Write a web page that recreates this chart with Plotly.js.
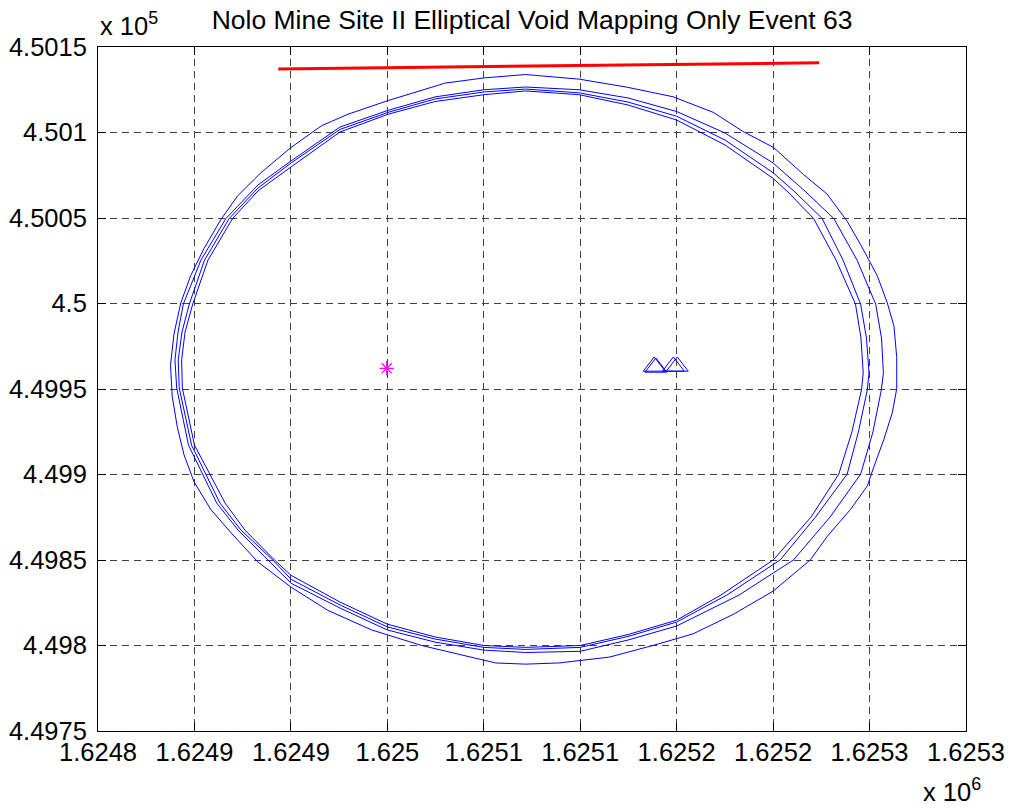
<!DOCTYPE html>
<html><head><meta charset="utf-8">
<script src="https://cdn.plot.ly/plotly-3.0.1.min.js"></script>
<style>html,body{margin:0;padding:0;background:#fff}#chart{width:1011px;height:808px}</style>
</head><body><div id="chart"></div><script>
// Outer void ellipse
const outerX = [1625080.0,1625111.3,1625138.8,1625166.2,1625189.7,1625207.3,1625224.9,1625242.5,1625256.3,1625268.0,1625275.9,1625285.6,1625291.5,1625295.4,1625297.0,1625297.0,1625294.5,1625289.5,1625283.7,1625279.8,1625270.0,1625256.3,1625246.5,1625224.9,1625201.4,1625177.9,1625154.4,1625128.9,1625099.6,1625080.0,1625062.4,1625042.8,1625019.3,1624990.0,1624964.5,1624942.9,1624923.4,1624907.7,1624895.9,1624886.2,1624880.3,1624876.4,1624873.4,1624872.4,1624874.4,1624878.4,1624884.2,1624892.0,1624901.9,1624911.6,1624925.3,1624942.9,1624960.6,1624976.2,1624999.7,1625033.0,1625055.6,1625080.0];
const outerY = [450133.9,450131.2,450126.6,450120.9,450111.8,450100.5,450091.3,450075.4,450064.0,450048.1,450034.4,450016.3,450000.3,449986.7,449968.4,449950.2,449936.5,449920.6,449904.7,449893.3,449879.6,449863.7,449850.1,449831.9,449818.2,449806.8,449800.0,449793.2,449789.8,449789.1,449789.8,449794.3,449800.0,449809.1,449820.5,449834.1,449848.9,449866.0,449879.6,449895.6,449911.5,449927.5,449945.7,449963.9,449982.1,450000.3,450016.3,450032.2,450049.2,450062.9,450076.5,450091.3,450103.9,450110.7,450118.7,450128.9,450131.9,450133.9];
// Inner ellipse B
const ringBX = [1625080.0,1625111.3,1625139.9,1625168.3,1625196.6,1625224.7,1625243.9,1625260.2,1625273.8,1625284.7,1625288.1,1625289.2,1625288.0,1625283.1,1625275.9,1625258.0,1625236.7,1625204.8,1625168.3,1625139.9,1625111.9,1625080.0,1625055.6,1625027.0,1624999.1,1624971.5,1624942.9,1624929.2,1624911.9,1624899.4,1624882.9,1624876.0,1624875.0,1624876.8,1624879.9,1624890.2,1624904.8,1624923.5,1624942.9,1624971.5,1624999.7,1625027.0,1625055.6,1625080.0];
const ringBY = [450126.6,450125.0,450120.2,450112.3,450099.7,450082.2,450065.2,450049.7,450025.4,449999.6,449979.8,449959.4,449949.5,449924.9,449900.2,449875.1,449850.1,449829.5,449811.4,449803.2,449796.6,449795.9,449797.3,449802.0,449809.1,449821.9,449836.4,449850.0,449867.5,449883.3,449917.2,449950.6,449967.0,449983.3,449999.7,450025.4,450049.7,450069.3,450083.4,450103.2,450113.0,450120.8,450125.0,450126.6];
// Inner ellipse C
const ringCX = [1625080.0,1625111.3,1625139.9,1625168.3,1625196.6,1625224.7,1625237.5,1625253.4,1625265.6,1625275.9,1625279.3,1625280.8,1625279.8,1625274.6,1625268.0,1625249.5,1625228.9,1625197.7,1625168.3,1625139.9,1625111.9,1625080.0,1625055.6,1625027.0,1624999.1,1624971.5,1624942.9,1624932.2,1624913.6,1624901.3,1624884.7,1624877.5,1624876.9,1624879.1,1624883.4,1624892.3,1624906.7,1624923.5,1624942.9,1624971.5,1624999.7,1625027.0,1625055.6,1625080.0];
const ringCY = [450125.4,450123.2,450117.8,450109.5,450095.6,450076.5,450065.2,450049.7,450025.4,449999.6,449979.8,449959.4,449949.5,449924.9,449900.2,449875.1,449850.1,449829.5,449813.7,449805.3,449798.9,449797.7,449798.9,449803.8,449810.9,449823.7,449838.7,449850.0,449867.5,449883.3,449917.2,449950.6,449967.0,449983.3,449999.7,450025.4,450049.7,450067.5,450082.2,450101.8,450111.8,450119.6,450123.7,450125.4];
// Inner ellipse D
const ringDX = [1625080.0,1625111.3,1625139.9,1625168.3,1625196.6,1625224.7,1625233.4,1625248.4,1625261.5,1625272.9,1625276.1,1625277.4,1625276.4,1625270.8,1625263.1,1625246.9,1625224.9,1625194.2,1625168.3,1625139.9,1625111.9,1625080.0,1625055.6,1625027.0,1624999.1,1624971.5,1624942.9,1624933.2,1624915.9,1624904.3,1624886.4,1624879.3,1624878.9,1624880.9,1624885.4,1624894.3,1624908.7,1624923.5,1624942.9,1624971.5,1624999.7,1625027.0,1625055.6,1625080.0];
const ringDY = [450124.3,450122.1,450116.1,450107.3,450092.7,450073.2,450065.2,450049.7,450025.4,449999.6,449979.8,449959.4,449949.5,449924.9,449900.2,449875.1,449850.1,449829.5,449814.8,449806.4,449800.0,449798.9,449800.0,449805.0,449812.5,449825.4,449841.0,449850.0,449867.5,449883.3,449917.2,449950.6,449967.0,449983.3,449999.7,450025.4,450049.7,450065.8,450079.9,450100.3,450110.7,450118.1,450122.1,450124.3];
// Red line
const redX = [1624935.4, 1625251.7];
const redY = [450137.1, 450140.8];
// Triangles (stations)
const triX = [1625155.2, 1625156.2, 1625166.4, 1625168.7];
const triY = [449963.2, 449962.6, 449963.2, 449963.2];
// Event location
const starX = [1624998.8];
const starY = [449962.1];
// Ticks
const xTickVals = [1624830, 1624886.4, 1624942.8, 1624999.2, 1625055.6, 1625111.9, 1625168.3, 1625224.7, 1625281.1, 1625337.5];
const xTickText = ['1.6248','1.6249','1.6249','1.625','1.6251','1.6251','1.6252','1.6252','1.6253','1.6253'];
const yTickVals = [449750, 449800, 449850, 449900, 449950, 450000, 450050, 450100, 450150];
const yTickText = ['4.4975','4.498','4.4985','4.499','4.4995','4.5','4.5005','4.501','4.5015'];

const blue = '#0000ff';
const ringLine = {color: blue, width: 1};
const traces = [
  {x: outerX, y: outerY, mode: 'lines', line: ringLine, type: 'scatter'},
  {x: ringBX, y: ringBY, mode: 'lines', line: ringLine, type: 'scatter'},
  {x: ringCX, y: ringCY, mode: 'lines', line: ringLine, type: 'scatter'},
  {x: ringDX, y: ringDY, mode: 'lines', line: ringLine, type: 'scatter'},
  {x: redX, y: redY, mode: 'lines', line: {color: '#ff0000', width: 3}, type: 'scatter'},
  {x: triX, y: triY, mode: 'markers', type: 'scatter',
   marker: {symbol: 'triangle-up-open', size: 19, color: blue, line: {color: blue, width: 1}}},
  {x: starX, y: starY, mode: 'markers', type: 'scatter',
   marker: {symbol: 'asterisk-open', size: 12, color: '#ff00ff', line: {color: '#ff00ff', width: 1.2}}}
];

const font = 'Liberation Sans, Arial, Helvetica, sans-serif';
const axisCommon = {
  showline: true, linecolor: '#000', linewidth: 1, mirror: 'allticks',
  ticks: 'inside', ticklen: 8, tickcolor: '#000', tickwidth: 1,
  showgrid: true, gridcolor: '#404040', gridwidth: 1, griddash: '7px,5px',
  zeroline: false, tickfont: {family: font, size: 25.5, color: '#000'}
};
const layout = {
  width: 1011, height: 808,
  margin: {l: 98, r: 45, t: 47, b: 77},
  paper_bgcolor: '#fff', plot_bgcolor: '#fff',
  showlegend: false, hovermode: false,
  title: {text: 'Nolo Mine Site II Elliptical Void Mapping Only Event 63',
          font: {family: font, size: 26.5, color: '#000'},
          x: 0.5, xref: 'paper', xanchor: 'center', y: 0.976, yref: 'container', yanchor: 'middle'},
  xaxis: Object.assign({}, axisCommon, {range: [1624830, 1625337.5], tickmode: 'array',
          tickvals: xTickVals, ticktext: xTickText, ticklabelstandoff: -2}),
  yaxis: Object.assign({}, axisCommon, {range: [449750, 450150], tickmode: 'array',
          tickvals: yTickVals, ticktext: yTickText, ticklabelstandoff: 5}),
  annotations: [
    {text: 'x 10<sup>5</sup>', xref: 'paper', yref: 'paper', x: 0, y: 1.034, xanchor: 'left', yanchor: 'middle',
     showarrow: false, font: {family: font, size: 25.5, color: '#000'}},
    {text: 'x 10<sup>6</sup>', xref: 'paper', yref: 'paper', x: 1.0196, y: -0.086, xanchor: 'right', yanchor: 'middle',
     showarrow: false, font: {family: font, size: 25.5, color: '#000'}}
  ]
};
Plotly.newPlot('chart', traces, layout, {staticPlot: true});
</script></body></html>
